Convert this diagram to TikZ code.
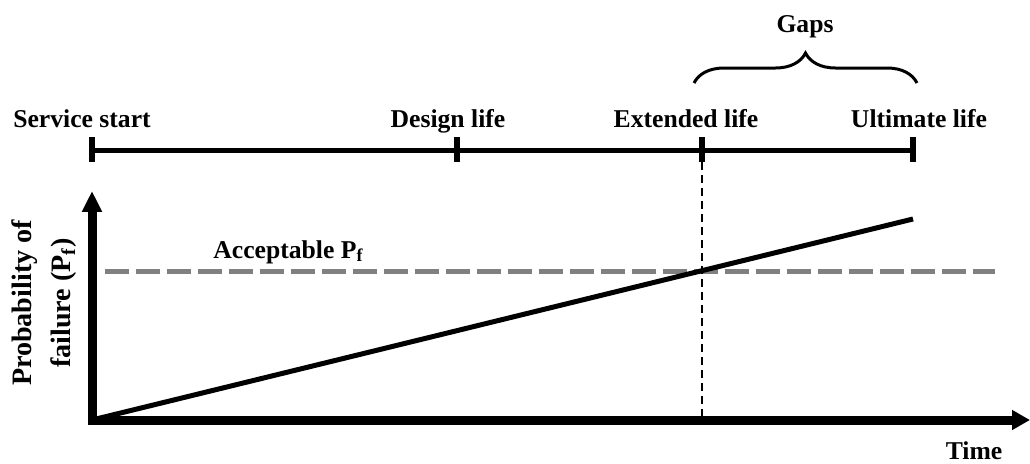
\documentclass[tikz,border=0pt]{standalone}
\usepackage{fontspec}
\setmainfont{Liberation Serif}
\usepackage{tikz}
\usetikzlibrary{arrows.meta,positioning,decorations.pathreplacing}

\begin{document}
\begin{tikzpicture}[
    x=0.02cm, y=-0.02cm,
    lbl/.style={font=\fontsize{14.6}{17}\selectfont\bfseries, inner sep=0pt, anchor=base},
    timeline/.style={line width=0.1cm},
    tickmark/.style={line width=0.12cm},
    axis/.style={line width=0.18cm, {Triangle[length=0.42cm,width=0.38cm]}-{Triangle[length=0.36cm,width=0.38cm]}},
    pfline/.style={line width=0.1cm, color=black!50, dash pattern=on 0.48cm off 0.14cm},
    vline/.style={line width=0.04cm, dash pattern=on 0.16cm off 0.1cm},
    gapbrace/.style={line width=0.06cm, decorate, decoration={brace, amplitude=0.6cm}}
]
    \useasboundingbox (0,0) rectangle (1030,463);

    % time line
    \coordinate (start) at (92,150);
    \coordinate (design) at (457,150);
    \coordinate (ext) at (702,150);
    \coordinate (ult) at (913,150);
    \draw[timeline] (start) -- (ult);
    \foreach \p in {start,design,ext,ult}
        \draw[tickmark] (\p) ++(0,-13) -- ++(0,25);

    \node[lbl] (lstart) at (82,127) {Service start};
    \node[lbl] (ldesign) at (448,127) {Design life};
    \node[lbl] (lext) at (686,127) {Extended life};
    \node[lbl] (lult) at (919,127) {Ultimate life};

    % gaps
    \coordinate (gapL) at (694,83);
    \coordinate (gapR) at (917,83);
    \draw[gapbrace] (gapL) -- (gapR);
    \node[lbl] (gaps) at (805,32) {Gaps};

    % axes
    \coordinate (origin) at (92,420);
    \coordinate (ytip) at (92,191);
    \coordinate (xtip) at (1030,420);
    \draw[axis] (ytip) -- (origin) -- (xtip);
    \node[lbl, anchor=center, rotate=90, align=center,
          font=\fontsize{16}{22.5}\selectfont\bfseries] (ylab) at (44,303)
          {Probability of\\failure (P\textsubscript{f})};
    \node[lbl] (time) at (974,459) {Time};

    % acceptable level and failure probability
    \coordinate (pfL) at (105,271);
    \coordinate (pfR) at (995,271);
    \draw[pfline] (pfL) -- (pfR);
    \node[lbl, anchor=base west] (acc) at (213,258) {Acceptable P\textsubscript{f}};
    \coordinate (pend) at (913,219);
    \draw[line width=0.1cm] (origin) -- (pend);
    \draw[vline] (ext) ++(0,12) -- (ext |- origin);
\end{tikzpicture}
\end{document}
